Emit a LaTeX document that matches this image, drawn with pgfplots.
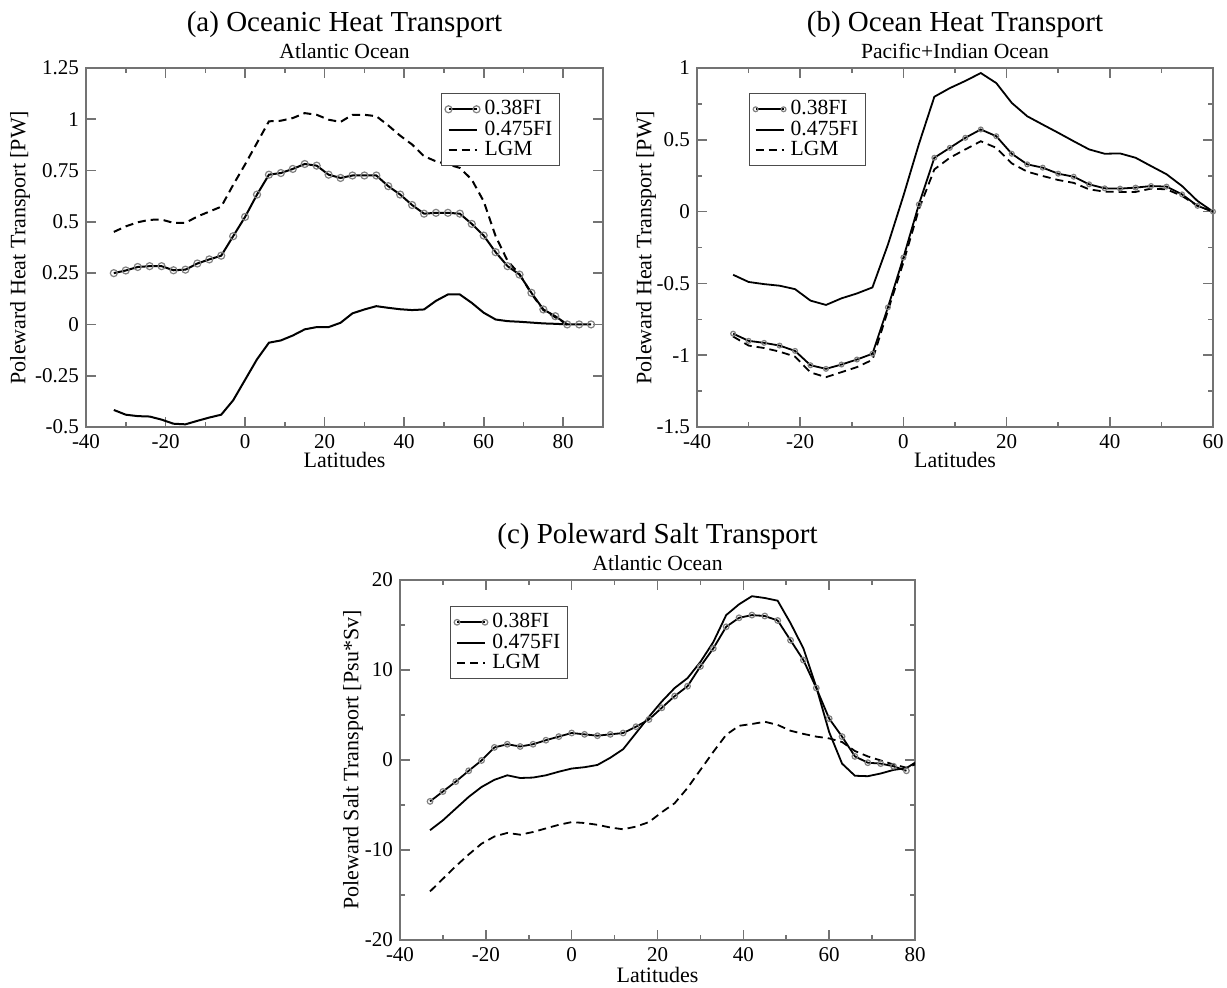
\documentclass[border=0pt]{standalone}
\usepackage{fontspec}
\setmainfont{Liberation Serif}
\usepackage{pgfplots}
\pgfplotsset{compat=1.18}

\pgfplotsset{
  panel/.style={
    scale only axis, anchor=south west,
    axis line style={black!55, line width=0.9pt},
    tick style={black!55, line width=0.8pt},
    tick align=inside,
    major tick length=5pt, minor tick length=2.5pt,
    /pgf/number format/assume math mode=true,
    /pgf/number format/fixed,
    tick label style={font=\fontsize{10.5}{12}\selectfont, black},
    label style={font=\fontsize{11}{13}\selectfont},
    legend style={draw=black!70, line width=0.6pt, fill=white,
      font=\fontsize{10.8}{11}\selectfont, inner sep=1.5pt, row sep=-2.5pt,
      cells={anchor=west}},
    legend image code/.code={\draw[##1] (0pt,0pt) -- (14pt,0pt);},
  },
  tt/.style 2 args={extra description/.code={
    \node[font=\fontsize{14.5}{16}\selectfont, anchor=center] at (0.5,1) [yshift=21.5pt] {#1};
    \node[font=\fontsize{10.8}{12}\selectfont, anchor=center] at (0.5,1) [yshift=8.5pt] {#2};}},
  s38/.style={black, line width=#1, mark=o, mark options={draw=gray, line width=0.6pt, solid}},
  s475/.style={black, line width=#1},
  slgm/.style={black, line width=#1, dash pattern=on 4pt off 2.5pt},
}

\begin{document}
\begin{tikzpicture}
\path[use as bounding box] (0,0) rectangle (613.5pt,493.5pt);

% ---------------- (a)
\begin{axis}[panel, at={(43pt,280pt)}, width=258.5pt, height=179.5pt,
  xmin=-40, xmax=90, ymin=-0.5, ymax=1.25,
  xtick={-40,-20,0,20,40,60,80}, minor xtick={-30,-10,10,30,50,70},
  ytick={-0.5,-0.25,0,0.25,0.5,0.75,1,1.25},
  tt={(a) Oceanic Heat Transport}{Atlantic Ocean},
  xlabel={Latitudes}, ylabel={Poleward Heat Transport [PW]},
  xlabel style={at={(axis description cs:0.5,-0.092)}, anchor=center},
  ylabel style={at={(axis description cs:-0.1277,0.5)}, anchor=center},
  legend style={at={(1,1)}, anchor=north east, xshift=-21.5pt, yshift=-12.5pt},
]
\addplot[s38=1pt, mark size=1.75pt,
  legend image code/.code={\draw[black,line width=1pt] (0pt,0pt) -- (14pt,0pt);
  \draw[gray,line width=0.6pt] (0pt,0pt) circle[radius=1.75pt] (14pt,0pt) circle[radius=1.75pt];}]
 coordinates {(-33,0.250) (-30,0.263) (-27,0.280) (-24,0.284) (-21,0.284) (-18,0.264)
 (-15,0.267) (-12,0.297) (-9,0.317) (-6,0.335) (-3,0.430) (0,0.524) (3,0.633) (6,0.730)
 (9,0.738) (12,0.758) (15,0.782) (18,0.774) (21,0.730) (24,0.714) (27,0.726) (30,0.726)
 (33,0.726) (36,0.674) (39,0.633) (42,0.582) (45,0.540) (48,0.544) (51,0.544) (54,0.540)
 (57,0.490) (60,0.433) (63,0.352) (66,0.284) (69,0.243) (72,0.154) (75,0.073) (78,0.040)
 (81,0.0) (84,0.0) (87,0.0)};
\addlegendentry{0.38FI}
\addplot[s475=1pt] coordinates {(-33,-0.417) (-30,-0.440) (-27,-0.447) (-24,-0.449)
 (-21,-0.464) (-18,-0.484) (-15,-0.487) (-12,-0.470) (-9,-0.454) (-6,-0.440) (-3,-0.370)
 (0,-0.270) (3,-0.170) (6,-0.089) (9,-0.078) (12,-0.054) (15,-0.024) (18,-0.013)
 (21,-0.013) (24,0.008) (27,0.054) (30,0.073) (33,0.089) (36,0.081) (39,0.074) (42,0.070)
 (45,0.073) (48,0.115) (51,0.146) (54,0.146) (57,0.105) (60,0.057) (63,0.024) (66,0.016)
 (69,0.013) (72,0.009) (75,0.005) (78,0.003) (81,0.0)};
\addlegendentry{0.475FI}
\addplot[slgm=1pt] coordinates {(-33,0.451) (-30,0.478) (-27,0.498) (-24,0.510) (-21,0.511)
 (-18,0.495) (-15,0.495) (-12,0.526) (-9,0.550) (-6,0.574) (-3,0.680) (0,0.780) (3,0.885)
 (6,0.990) (9,0.993) (12,1.006) (15,1.030) (18,1.022) (21,0.998) (24,0.987) (27,1.022)
 (30,1.022) (33,1.015) (36,0.970) (39,0.920) (42,0.877) (45,0.820) (48,0.795) (51,0.780)
 (54,0.763) (57,0.706) (60,0.600) (63,0.430) (66,0.310) (69,0.245) (72,0.150) (75,0.070)
 (78,0.035) (81,0.0)};
\addlegendentry{LGM}
\end{axis}

% ---------------- (b)
\begin{axis}[panel, at={(348.5pt,280pt)}, width=258pt, height=179.5pt,
  xmin=-40, xmax=60, ymin=-1.5, ymax=1,
  xtick={-40,-20,0,20,40,60}, minor xtick={-30,-10,10,30,50},
  ytick={-1.5,-1,-0.5,0,0.5,1}, minor ytick={-1.25,-0.75,-0.25,0.25,0.75},
  tt={(b) Ocean Heat Transport}{Pacific+Indian Ocean},
  xlabel={Latitudes}, ylabel={Poleward Heat Transport [PW]},
  xlabel style={at={(axis description cs:0.5,-0.092)}, anchor=center},
  ylabel style={at={(axis description cs:-0.0988,0.5)}, anchor=center},
  legend style={at={(0,1)}, anchor=north west, xshift=26pt, yshift=-12.5pt},
]
\addplot[s38=0.9pt, mark size=1.2pt,
  legend image code/.code={\draw[black,line width=0.9pt] (0pt,0pt) -- (14pt,0pt);
  \draw[gray,line width=0.6pt] (0pt,0pt) circle[radius=1.2pt] (14pt,0pt) circle[radius=1.2pt];}]
 coordinates {(-33,-0.85) (-30,-0.90) (-27,-0.914) (-24,-0.933) (-21,-0.97) (-18,-1.07)
 (-15,-1.095) (-12,-1.065) (-9,-1.03) (-6,-0.99) (-3,-0.667) (0,-0.32) (3,0.05) (6,0.375)
 (9,0.444) (12,0.514) (15,0.572) (18,0.525) (21,0.403) (24,0.329) (27,0.306) (30,0.264)
 (33,0.243) (36,0.19) (39,0.162) (42,0.16) (45,0.167) (48,0.178) (51,0.174) (54,0.12)
 (57,0.04) (60,0.0)};
\addlegendentry{0.38FI}
\addplot[s475=0.9pt] coordinates {(-33,-0.44) (-30,-0.49) (-27,-0.505) (-24,-0.516)
 (-21,-0.54) (-18,-0.62) (-15,-0.65) (-12,-0.604) (-9,-0.57) (-6,-0.528) (-3,-0.23)
 (0,0.11) (3,0.47) (6,0.80) (9,0.86) (12,0.91) (15,0.965) (18,0.895) (21,0.757) (24,0.664)
 (27,0.606) (30,0.549) (33,0.49) (36,0.433) (39,0.403) (42,0.405) (45,0.375) (48,0.317)
 (51,0.26) (54,0.178) (57,0.074) (60,0.0)};
\addlegendentry{0.475FI}
\addplot[slgm=0.9pt] coordinates {(-33,-0.87) (-30,-0.933) (-27,-0.95) (-24,-0.975)
 (-21,-1.01) (-18,-1.12) (-15,-1.153) (-12,-1.118) (-9,-1.083) (-6,-1.032) (-3,-0.69)
 (0,-0.354) (3,0.016) (6,0.294) (9,0.375) (12,0.433) (15,0.49) (18,0.444) (21,0.336)
 (24,0.278) (27,0.248) (30,0.22) (33,0.2) (36,0.155) (39,0.139) (42,0.137) (45,0.137)
 (48,0.16) (51,0.155) (54,0.109) (57,0.04) (60,0.0)};
\addlegendentry{LGM}
\end{axis}

% ---------------- (c)
\begin{axis}[panel, at={(200pt,23.5pt)}, width=257.5pt, height=180pt,
  xmin=-40, xmax=80, ymin=-20, ymax=20,
  xtick={-40,-20,0,20,40,60,80}, minor xtick={-30,-10,10,30,50,70},
  ytick={-20,-10,0,10,20}, minor ytick={-15,-5,5,15},
  tt={(c) Poleward Salt Transport}{Atlantic Ocean},
  xlabel={Latitudes}, ylabel={Poleward Salt Transport [Psu*Sv]},
  xlabel style={at={(axis description cs:0.5,-0.096)}, anchor=center},
  ylabel style={at={(axis description cs:-0.0913,0.5)}, anchor=center},
  legend style={at={(0,1)}, anchor=north west, xshift=25pt, yshift=-13pt},
]
\addplot[s38=0.9pt, mark size=1.4pt,
  legend image code/.code={\draw[black,line width=0.9pt] (0pt,0pt) -- (14pt,0pt);
  \draw[gray,line width=0.6pt] (0pt,0pt) circle[radius=1.4pt] (14pt,0pt) circle[radius=1.4pt];}]
 coordinates {(-33,-4.6) (-30,-3.5) (-27,-2.4) (-24,-1.2) (-21,-0.05) (-18,1.4) (-15,1.75)
 (-12,1.5) (-9,1.75) (-6,2.2) (-3,2.6) (0,3.0) (3,2.85) (6,2.7) (9,2.85) (12,3.0) (15,3.7)
 (18,4.5) (21,5.8) (24,7.1) (27,8.2) (30,10.4) (33,12.4) (36,14.8) (39,15.8) (42,16.1)
 (45,16.0) (48,15.5) (51,13.3) (54,11.1) (57,8.0) (60,4.6) (63,2.6) (66,0.4) (69,-0.3)
 (72,-0.4) (75,-0.7) (78,-1.2)};
\addlegendentry{0.38FI}
\addplot[s475=0.9pt] coordinates {(-33,-7.8) (-30,-6.7) (-27,-5.4) (-24,-4.1) (-21,-3.0)
 (-18,-2.2) (-15,-1.7) (-12,-2.0) (-9,-1.95) (-6,-1.7) (-3,-1.3) (0,-0.95) (3,-0.8)
 (6,-0.55) (9,0.25) (12,1.2) (15,3.0) (18,4.8) (21,6.5) (24,8.0) (27,9.1) (30,10.9)
 (33,13.1) (36,16.1) (39,17.3) (42,18.2) (45,18.0) (48,17.7) (51,15.2) (54,12.4) (57,8.1)
 (60,3.1) (63,-0.4) (66,-1.75) (69,-1.8) (72,-1.5) (75,-1.1) (78,-0.9) (80,-0.3)};
\addlegendentry{0.475FI}
\addplot[slgm=0.9pt] coordinates {(-33,-14.6) (-30,-13.2) (-27,-11.8) (-24,-10.5) (-21,-9.3)
 (-18,-8.5) (-15,-8.1) (-12,-8.3) (-9,-8.0) (-6,-7.6) (-3,-7.2) (0,-6.9) (3,-7.0) (6,-7.2)
 (9,-7.5) (12,-7.7) (15,-7.4) (18,-6.9) (21,-5.8) (24,-4.8) (27,-3.1) (30,-1.1) (33,0.9)
 (36,2.8) (39,3.8) (42,4.0) (45,4.25) (48,3.9) (51,3.25) (54,2.9) (57,2.6) (60,2.4)
 (63,2.0) (66,1.0) (69,0.4) (72,-0.05) (75,-0.5) (78,-0.85) (80,-0.5)};
\addlegendentry{LGM}
\end{axis}
\end{tikzpicture}
\end{document}
